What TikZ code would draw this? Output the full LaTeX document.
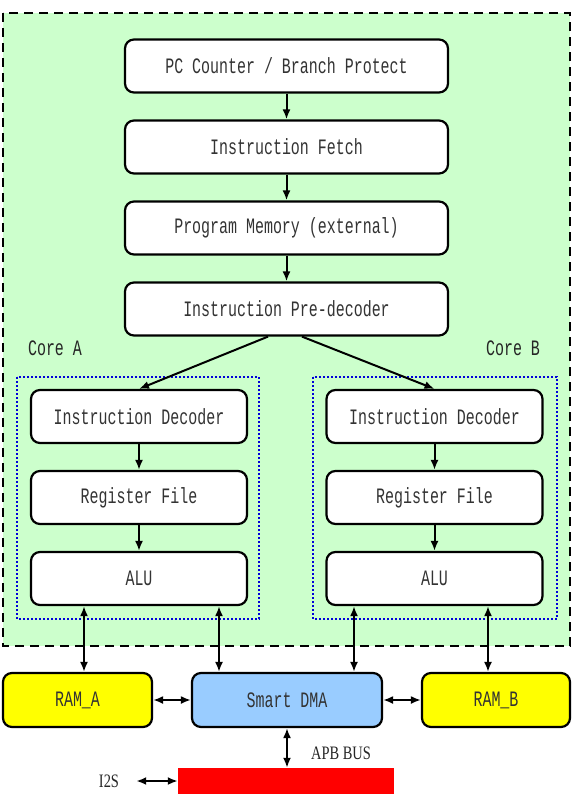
\documentclass[tikz,border=0pt]{standalone}
\usepackage{fontspec}
\setmonofont[FakeStretch=0.68]{Liberation Mono}
\newfontfamily\busfont[FakeStretch=0.76]{Liberation Serif}
\usetikzlibrary{arrows.meta}
\definecolor{coregreen}{HTML}{CCFFCC}
\definecolor{ramyellow}{HTML}{FFFF00}
\definecolor{dmablue}{HTML}{99CCFF}

\begin{document}
\begin{tikzpicture}[x=1pt, y=-1pt,
  block/.style={draw, line width=2.2pt, rounded corners=9pt, fill=white,
    minimum height=53pt, inner sep=0pt, text=black!80,
    font=\ttfamily\fontsize{22}{24}\selectfont},
  tag/.style={inner sep=0pt, text=black!85, font=\ttfamily\fontsize{22}{24}\selectfont},
  lbl/.style={inner sep=0pt, text=black!85, font=\busfont\fontsize{19}{21}\selectfont},
  coreframe/.style={draw=blue!85!black, line width=2pt, dash pattern=on 2pt off 2pt},
  arr/.style={line width=2pt, -{Latex[length=10pt, width=8pt]}},
  bi/.style={line width=2pt, {Latex[length=10pt, width=8pt]}-{Latex[length=10pt, width=8pt]}}]
  \useasboundingbox (0,0) rectangle (573,806);

  % Processor region
  \draw[dash pattern=on 9pt off 6pt, line width=2.4pt, fill=coregreen] (3,13) rectangle (570,646);

  % Core frames and their names
  \draw[coreframe] (17,377) rectangle (259,619);
  \draw[coreframe] (313,377) rectangle (557,619);
  \node[tag] (coreA) at (55,348) {Core A};
  \node[tag] (coreB) at (513,348) {Core B};

  % Shared front end
  \node[block, minimum width=323pt] (pc) at (286.5,66) {PC Counter / Branch Protect};
  \node[block, minimum width=323pt] (fetch) at (286.5,147) {Instruction Fetch};
  \node[block, minimum width=323pt] (pmem) at (286.5,228) {Program Memory (external)};
  \node[block, minimum width=323pt] (predec) at (286.5,309) {Instruction Pre-decoder};
  \foreach \a/\b in {pc/fetch, fetch/pmem, pmem/predec}
    \draw[arr] (\a) -- (\b);

  % Per-core pipeline
  \foreach \c/\x in {A/139, B/434.5} {
    \node[block, minimum width=216pt] (dec\c) at (\x,416.5) {Instruction Decoder};
    \node[block, minimum width=216pt] (reg\c) at (\x,497.5) {Register File};
    \node[block, minimum width=216pt] (alu\c) at (\x,578.5) {ALU};
    \draw[arr] (dec\c) -- (reg\c);
    \draw[arr] (reg\c) -- (alu\c);
  }
  \draw[arr] ([xshift=-18.5pt]predec.south) -- (decA.north);
  \draw[arr] ([xshift=15.5pt]predec.south) -- (decB.north);

  % Memories and DMA
  \node[block, fill=ramyellow, minimum width=149pt, minimum height=54pt] (ramA) at (77.5,700) {RAM\_A};
  \node[block, fill=dmablue, minimum width=190pt, minimum height=54pt] (dma) at (287,700) {Smart DMA};
  \node[block, fill=ramyellow, minimum width=148pt, minimum height=54pt] (ramB) at (496,700) {RAM\_B};
  \draw[bi] (ramA) -- (dma);
  \draw[bi] (dma) -- (ramB);
  \draw[bi] ([xshift=-55pt]aluA.south) -- ([xshift=-55pt]aluA.south |- ramA.north);
  \draw[bi] ([xshift=80pt]aluA.south) -- ([xshift=80pt]aluA.south |- dma.north);
  \draw[bi] ([xshift=-80.5pt]aluB.south) -- ([xshift=-80.5pt]aluB.south |- dma.north);
  \draw[bi] ([xshift=53.5pt]aluB.south) -- ([xshift=53.5pt]aluB.south |- ramB.north);

  % Peripheral bus
  \node[fill=red, minimum width=216pt, minimum height=26pt, inner sep=0pt] (bus) at (286,781) {};
  \draw[bi] (dma.south) -- (dma.south |- bus.north);
  \node[lbl] (apb) at (341,753) {APB BUS};
  \node[lbl] (i2s) at (109,781) {I2S};
  \draw[bi] ([xshift=17pt]i2s.east) -- (bus.west);
\end{tikzpicture}
\end{document}
